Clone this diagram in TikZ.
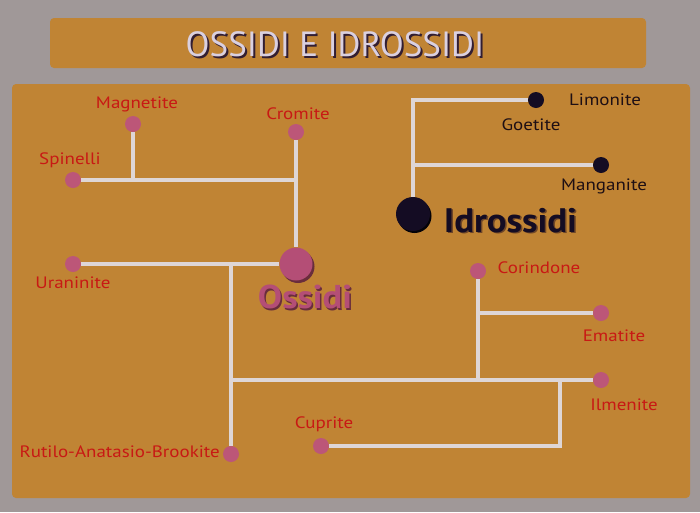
\documentclass[tikz,border=0pt]{standalone}
\usepackage{fontspec}
\setmainfont{PT Sans}
\definecolor{bgc}{RGB}{160,152,152}
\definecolor{panelc}{RGB}{192,132,52}
\definecolor{linec}{RGB}{222,214,214}
\definecolor{pinkc}{RGB}{188,86,120}
\definecolor{redc}{RGB}{200,25,20}
\definecolor{darkc}{RGB}{20,12,35}
\definecolor{blackt}{RGB}{30,15,20}
\definecolor{titlec}{RGB}{218,208,224}
\definecolor{shadowc}{RGB}{50,30,50}
\definecolor{ossc}{RGB}{180,78,118}
\definecolor{ossshadow}{RGB}{105,45,60}
\definecolor{idrshadow}{RGB}{110,70,40}
\tikzset{
  conn/.style={draw=linec,line width=3.5pt},
  pdot/.style={circle,fill=pinkc,inner sep=0pt,minimum size=16pt},
  ddot/.style={circle,fill=darkc,inner sep=0pt,minimum size=16pt},
  rlab/.style={text=redc,font=\fontsize{16.5}{17}\selectfont,inner sep=0pt,xscale=1.15},
  blab/.style={text=blackt,font=\fontsize{16.5}{17}\selectfont,inner sep=0pt,xscale=1.15},
  biglab/.style={font=\bfseries\fontsize{33}{33}\selectfont,inner sep=0pt,xscale=1.1},
}
\begin{document}
\begin{tikzpicture}[x=1pt,y=-1pt]
\fill[bgc] (0,0) rectangle (700,512);
\useasboundingbox (0,0) rectangle (700,512);
\fill[panelc,rounded corners=4pt] (50,18) rectangle (646,68);
\fill[panelc,rounded corners=4pt] (12,84) rectangle (690,498);
% title
\node[text=shadowc,font=\fontsize{35}{35}\selectfont,inner sep=0pt] (titleshadow) at (337,46) {OSSIDI E IDROSSIDI};
\node[text=titlec,font=\fontsize{35}{35}\selectfont,inner sep=0pt] (title) at (335,44) {OSSIDI E IDROSSIDI};
% dots
\fill[ossshadow] (298,266.5) circle (16.5pt);
\node[pdot,minimum size=33pt,fill=ossc] (ossidi) at (296,264) {};
\fill[black!80!darkc] (414.5,216) circle (17pt);
\node[ddot,minimum size=34pt] (idrossidi) at (413,214) {};
\node[pdot] (magnetite) at (133,124) {};
\node[pdot] (cromite) at (296,132) {};
\node[pdot] (spinelli) at (73,180) {};
\node[pdot] (uraninite) at (73,264) {};
\node[pdot] (rutilo) at (231,454) {};
\node[pdot] (cuprite) at (321,446) {};
\node[pdot] (corindone) at (478,271) {};
\node[pdot] (ematite) at (601,313) {};
\node[pdot] (ilmenite) at (601,380) {};
\node[ddot] (goetite) at (536,100) {};
\node[ddot] (manganite) at (601,165) {};
\coordinate (cupcorner) at (560,380);
% connectors
\draw[conn] (cromite) -- (ossidi);
\draw[conn] (spinelli) -- (spinelli -| cromite);
\draw[conn] (magnetite) -- (magnetite |- spinelli);
\draw[conn] (uraninite) -- (ossidi);
\draw[conn] (rutilo) -- (rutilo |- uraninite);
\draw[conn] (ilmenite) -- (ilmenite -| rutilo);
\draw[conn] (corindone) -- (corindone |- ilmenite);
\draw[conn] (ematite) -- (ematite -| corindone);
\draw[conn] (cuprite) -| (cupcorner);
\draw[conn] (goetite) -| (idrossidi);
\draw[conn] (manganite) -- (manganite -| idrossidi);
% labels
\node[rlab] (lmagnetite) at (137,104) {Magnetite};
\node[rlab] (lcromite) at (298,114) {Cromite};
\node[rlab] (lspinelli) at (70,160) {Spinelli};
\node[rlab] (luraninite) at (73,283) {Uraninite};
\node[rlab,anchor=east] (lrutilo) at (220,452) {Rutilo-Anatasio-Brookite};
\node[rlab] (lcuprite) at (324,424) {Cuprite};
\node[rlab] (lcorindone) at (539,268) {Corindone};
\node[rlab] (lematite) at (614,336) {Ematite};
\node[rlab] (lilmenite) at (624,405) {Ilmenite};
\node[blab] (llimonite) at (605,100) {Limonite};
\node[blab] (lgoetite) at (531,125) {Goetite};
\node[blab] (lmanganite) at (604,186) {Manganite};
\node[biglab,text=ossshadow] (ossshadowlab) at (306.5,298.5) {Ossidi};
\node[biglab,text=ossc] (ossidilab) at (305,297) {Ossidi};
\node[biglab,text=idrshadow,font=\bfseries\fontsize{34}{34}\selectfont,xscale=0.98] (idrshadowlab) at (512,222) {Idrossidi};
\node[biglab,text=darkc,font=\bfseries\fontsize{34}{34}\selectfont,xscale=0.98] (idrlab) at (510.5,220.5) {Idrossidi};
\end{tikzpicture}
\end{document}
